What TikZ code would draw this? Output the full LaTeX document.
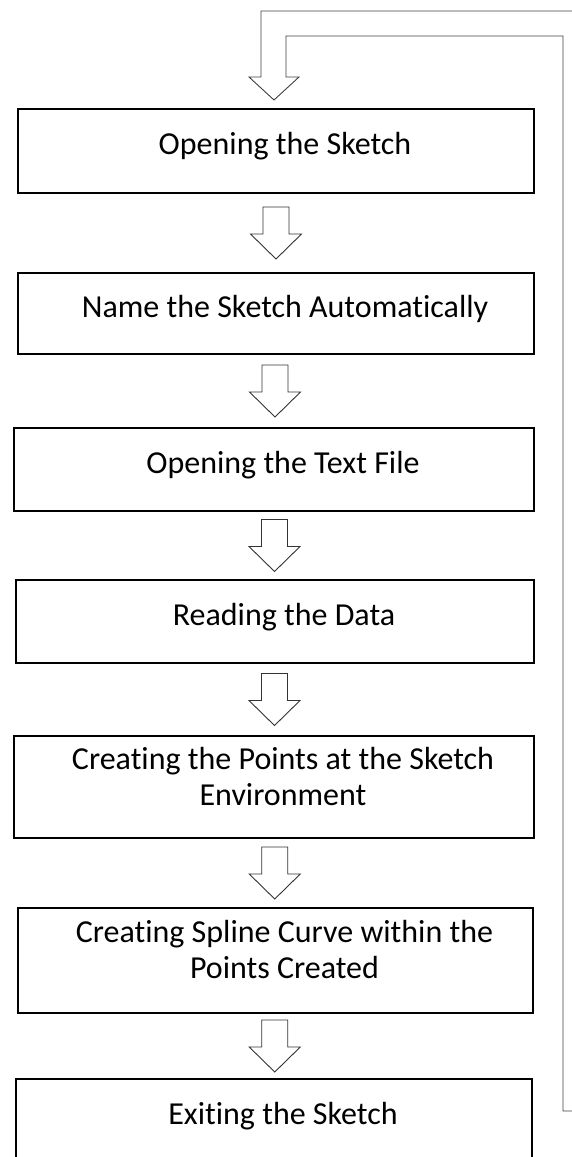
\documentclass[tikz,border=0pt]{standalone}
\usepackage{fontspec}
\setmainfont{Carlito}[Ligatures=NoCommon]
\usepackage{tikz}
\usetikzlibrary{calc}
\tikzstyle{flowchart} = [x = 1pt, y = -1pt]
\tikzstyle{stepBox} = [draw=black, line width=2pt, inner sep=0pt, align=center, font=\fontsize{32}{36}\selectfont]
\tikzstyle{oneLine} = [text height=22pt, text depth=15pt]
\tikzstyle{twoLines} = [text depth=22pt]
\tikzstyle{flowLine} = [color=black!80, line width=0.9pt, fill=white]
\tikzstyle{backLine} = [color=black!75, line width=0.9pt, fill=white]
\newcommand{\pad}{\hspace*{18pt}}
\newcommand{\stepNode}[6]{\node [stepBox, #6, minimum width=#4, minimum height=#5] (#1) at (#2) {#3};}
\newcommand{\flowArrow}[2]{
  \coordinate (#1#2) at ($(#1.south)!.5!(#2.north)$);
  \draw [flowLine] ($(#1#2)+(-13,-26)$) -- ++(0,27) -- ++(-12.5,0) -- ++(25.5,25)
    -- ++(25.5,-25) -- ++(-12.5,0) -- ++(0,-27) -- cycle;
}

\begin{document}
\begin{tikzpicture}[flowchart]
      \useasboundingbox (0,0) rectangle (572,1157);
      \clip (0,0) rectangle (572,1157);

      \stepNode{b1}{276,151}{\pad Opening the Sketch}{516}{84}{oneLine}
      \stepNode{b2}{276,313.5}{\pad Name the Sketch Automatically}{516}{81}{oneLine}
      \stepNode{b3}{274,469.5}{\pad Opening the Text File}{520}{83}{oneLine}
      \stepNode{b4}{275,621.5}{\pad Reading the Data}{518}{83}{oneLine}
      \stepNode{b5}{274,787}{\pad Creating the Points at the Sketch\\\pad Environment}{520}{102}{twoLines}
      \stepNode{b6}{275.5,960.5}{\pad Creating Spline Curve within the\\\pad Points Created}{515}{105}{twoLines}
      \stepNode{b7}{274,1121}{\pad Exiting the Sketch}{516}{84}{oneLine}

      \flowArrow{b1}{b2}
      \flowArrow{b2}{b3}
      \flowArrow{b3}{b4}
      \flowArrow{b4}{b5}
      \flowArrow{b5}{b6}
      \flowArrow{b6}{b7}

      % return arrow round the right side, back into the first step
      \coordinate (backTip) at ($(b1.north)+(-2,-8)$);
      \coordinate (backTail) at ($(b7.north east)+(30,33)$);
      \draw [backLine] (backTip) -- ++(25,-23) -- ++(-13,0) -- ++(0,-41) -| (backTail)
        -- ++(60,0) -- ++(0,-25) -- ++(-35,0) |- ($(backTip)+(-13,-89)$)
        -- ++(0,66) -- ++(-12,0) -- cycle;
    \end{tikzpicture}
\end{document}
